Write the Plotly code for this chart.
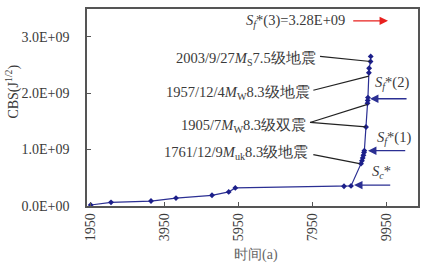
import plotly.graph_objects as go

# ---- data ----
cbs_x = [1969, 2518, 3599, 4274, 5247, 5699, 5877, 8815, 9005,
         9275, 9300, 9320, 9340, 9356, 9365,
         9410,
         9450, 9456, 9462,
         9488, 9494,
         9532, 9537]
cbs_y = [0.018e9, 0.065e9, 0.088e9, 0.14e9, 0.19e9, 0.25e9, 0.32e9, 0.35e9, 0.356e9,
         0.75e9, 0.80e9, 0.85e9, 0.90e9, 0.95e9, 0.98e9,
         1.40e9,
         1.82e9, 1.87e9, 1.92e9,
         2.36e9, 2.44e9,
         2.56e9, 2.65e9]

x_tickvals = [1950, 3950, 5950, 7950, 9950]
x_ticktext = ["1950", "3950", "5950", "7950", "9950"]
y_tickvals = [0, 1e9, 2e9, 3e9]
y_ticktext = ["0.0E+00", "1.0E+09", "2.0E+09", "3.0E+09"]

# threshold values
thr_names = ["Sc", "Sf1", "Sf2", "Sf3"]
thr_values = [0.37e9, 0.98e9, 1.90e9, 3.28e9]

event_labels = [
    "2003/9/27<i>M</i><sub>S</sub>7.5级地震",
    "1957/12/4<i>M</i><sub>W</sub>8.3级地震",
    "1905/7<i>M</i><sub>W</sub>8.3级双震",
    "1761/12/9<i>M</i><sub>uk</sub>8.3级地震",
]

LINE = "#2b2f93"
TXT = "#3a3a3a"
FONT = "Liberation Serif"

fig = go.Figure()
fig.add_trace(go.Scatter(
    x=cbs_x, y=cbs_y, mode="lines+markers",
    line=dict(color=LINE, width=1.2),
    marker=dict(color="#1c1f8a", size=4.5, symbol="diamond"),
    showlegend=False, hoverinfo="skip"))

ann = []
# threshold arrows
arrow_specs = {
    "Sc":  (10105, 9086, LINE),
    "Sf1": (10510, 9464, LINE),
    "Sf2": (10546, 9518, LINE),
    "Sf3": (9024, 10005, "#e8201e"),
}
for name, val in zip(thr_names, thr_values):
    x0, x1, col = arrow_specs[name]
    ann.append(dict(x=x1, y=val, ax=x0, ay=val, xref="x", yref="y",
                    axref="x", ayref="y", showarrow=True, arrowhead=2,
                    arrowsize=1.3, arrowwidth=1.3, arrowcolor=col, text=""))

AF = dict(size=14.5)
# threshold labels
ann.append(dict(x=8897, y=thr_values[3], xref="x", yref="y", xanchor="right",
                text="<i>S</i><sub><i>f</i></sub>*(3)=3.28E+09", showarrow=False, font=AF))
ann.append(dict(x=10105, y=2.18e9, xref="x", yref="y",
                text="<i>S</i><sub><i>f</i></sub>*(2)", showarrow=False, font=AF))
ann.append(dict(x=10167, y=1.21e9, xref="x", yref="y",
                text="<i>S</i><sub><i>f</i></sub>*(1)", showarrow=False, font=AF))
ann.append(dict(x=9835, y=0.60e9, xref="x", yref="y",
                text="<i>S</i><sub><i>c</i></sub>*", showarrow=False, font=AF))

# event labels
label_pos = [(8113, 2.60e9), (7951, 2.0e9), (7843, 1.42e9), (7897, 0.947e9)]
for t, (lx, ly) in zip(event_labels, label_pos):
    ann.append(dict(x=lx, y=ly, xref="x", yref="y", xanchor="right",
                    text=t, showarrow=False, font=AF))

# leader lines
leaders = [
    ((8167, 2.65e9), (cbs_x[21], cbs_y[21])),
    ((7986, 2.05e9), (cbs_x[19], 2.30e9)),
    ((7897, 1.48e9), (cbs_x[16], 1.80e9)),
    ((7897, 1.48e9), (cbs_x[15], cbs_y[15])),
    ((7986, 0.91e9), (cbs_x[9] - 40, cbs_y[9])),
]
shapes = []
for (x0, y0), (x1, y1) in leaders:
    shapes.append(dict(type="line", xref="x", yref="y", x0=x0, y0=y0,
                       x1=x1, y1=y1, line=dict(color="#222222", width=1.2)))

# axis titles
ann.append(dict(xref="paper", yref="paper", x=-0.224, y=0.58, textangle=-90,
                xanchor="center", yanchor="middle",
                text="CBS(J<sup>1/2</sup>)", showarrow=False))
ann.append(dict(xref="paper", yref="paper", x=0.51, y=-0.25, yanchor="middle",
                xanchor="center", text="时间(a)", showarrow=False,
                font=dict(color="#666666", size=14)))

fig.update_layout(
    width=438, height=267,
    margin=dict(l=87, r=20, t=7, b=61),
    paper_bgcolor="white", plot_bgcolor="white",
    font=dict(family=FONT, size=14, color=TXT),
    annotations=ann, shapes=shapes,
    xaxis=dict(range=[1869, 10815], tickvals=x_tickvals, ticktext=x_ticktext,
               tickangle=-90, ticks="inside", ticklen=4, tickcolor="#555",
               showline=True, linecolor="#555", linewidth=1.5, mirror=True,
               showgrid=False, zeroline=False, tickfont=dict(size=14)),
    yaxis=dict(range=[0, 3.49e9], tickvals=y_tickvals, ticktext=y_ticktext,
               ticks="inside", ticklen=4, tickcolor="#555",
               showline=True, linecolor="#555", linewidth=1.5, mirror=True,
               showgrid=False, zeroline=False, tickfont=dict(size=14),
               ticklabelstandoff=13),
)

fig.write_html("out.html", config={"displayModeBar": False},
               post_script="document.body.style.margin='0';document.body.style.padding='0';")
